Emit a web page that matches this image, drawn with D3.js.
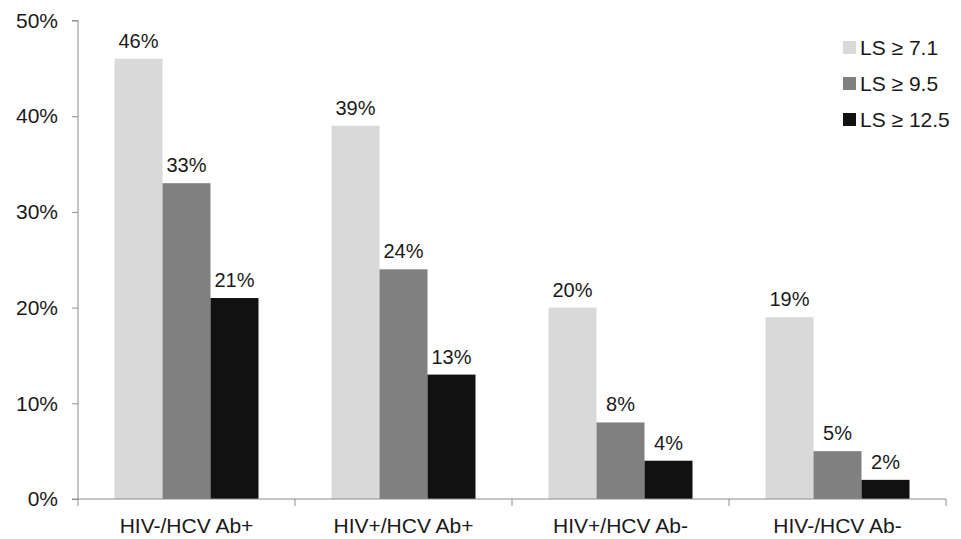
<!DOCTYPE html>
<html><head><meta charset="utf-8">
<script src="https://cdn.jsdelivr.net/npm/d3@7"></script>
<style>body{margin:0;background:#fff}svg{display:block}text{font-family:"Liberation Sans",Arial,sans-serif;fill:#1a1a1a}</style>
</head><body><svg id="c" width="961" height="539"></svg>
<script>
const categories = ["HIV-/HCV Ab+", "HIV+/HCV Ab+", "HIV+/HCV Ab-", "HIV-/HCV Ab-"];
const seriesNames = ["LS \u2265 7.1", "LS \u2265 9.5", "LS \u2265 12.5"];
const ls71 = [46, 39, 20, 19];
const ls95 = [33, 24, 8, 5];
const ls125 = [21, 13, 4, 2];
const yTicks = [0, 10, 20, 30, 40, 50];
const colors = ["#d9d9d9", "#808080", "#111111"];

(function () {
const series = [ls71, ls95, ls125];
const svg = d3.select("#c");
const mLeft = 78, mRight = 946, mTop = 20.5, mBottom = 499;
const x = d3.scaleBand().domain(categories).range([mLeft, mRight]).paddingInner(0).paddingOuter(0);
const sub = d3.scaleBand().domain(d3.range(3)).range([36.5, 36.5 + 144]);
const y = d3.scaleLinear().domain([0, 50]).range([mBottom, mTop]);

categories.forEach((c, i) => {
  series.forEach((s, j) => {
    svg.append("rect")
      .attr("x", x(c) + sub(j)).attr("width", sub.bandwidth())
      .attr("y", y(s[i])).attr("height", y(0) - y(s[i]))
      .attr("fill", colors[j]);
    svg.append("text")
      .attr("x", x(c) + sub(j) + sub.bandwidth() / 2)
      .attr("y", y(s[i]) - 11)
      .attr("text-anchor", "middle").attr("font-size", 20)
      .text(s[i] + "%");
  });
});

const ya = svg.append("g").attr("transform", `translate(${mLeft},0)`)
  .call(d3.axisLeft(y).tickValues(yTicks).tickSize(6).tickPadding(14).tickFormat(d => d + "%"));
ya.select(".domain").attr("stroke", "#8c8c8c").attr("d", `M-6,${mTop}H0V${mBottom}H-6`);
ya.selectAll(".tick line").attr("stroke", "#8c8c8c");
ya.selectAll(".tick text").attr("font-size", 21).attr("fill", "#1a1a1a").attr("font-family", "Liberation Sans, Arial, sans-serif");

const xa = svg.append("g").attr("transform", `translate(0,${mBottom})`)
  .call(d3.axisBottom(x).tickSize(0).tickPadding(19));
xa.select(".domain").attr("stroke", "#8c8c8c").attr("d", `M${mLeft},0H${mRight}`);
xa.selectAll(".tick text").attr("font-size", 21).attr("fill", "#1a1a1a").attr("font-family", "Liberation Sans, Arial, sans-serif").attr("dy", "0.71em");
const bounds = categories.map(c => x(c)).concat([mRight]);
xa.selectAll(".sep").data(bounds).enter().append("line")
  .attr("x1", d => d).attr("x2", d => d).attr("y1", 0).attr("y2", 7).attr("stroke", "#8c8c8c");

const lg = svg.append("g").attr("transform", "translate(843,41)");
seriesNames.forEach((n, j) => {
  const g = lg.append("g").attr("transform", `translate(0,${j * 36})`);
  g.append("rect").attr("width", 13).attr("height", 13).attr("fill", colors[j]);
  g.append("text").attr("x", 17).attr("y", 14).attr("font-size", 21).text(n);
});
})();
</script></body></html>
